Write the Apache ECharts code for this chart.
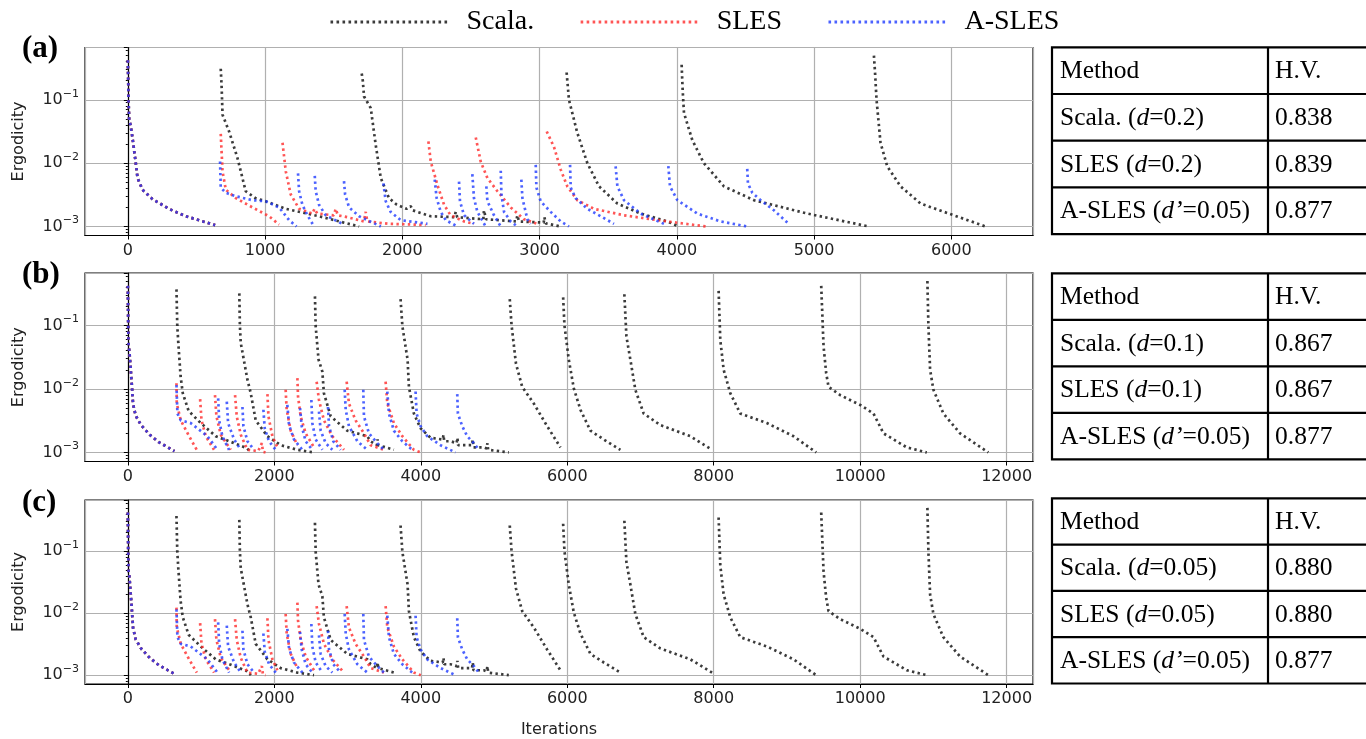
<!DOCTYPE html>
<html>
<head>
<meta charset="utf-8">
<script src="https://cdn.jsdelivr.net/npm/echarts@6/dist/echarts.min.js"></script>
<style>
html,body{margin:0;padding:0;background:#fff;}
#chart{width:1366px;height:739px;}
</style>
</head>
<body>
<div id="chart"></div>
<script>
// ---------------- DATA ----------------
const methods = ['Scala.', 'SLES', 'A-SLES'];
const panelLabels = ['(a)', '(b)', '(c)'];
const xTickStep = [1000, 2000, 2000];

// initial run shared by all methods (starts at iteration 0)
const firstSeg = [[0,0.42],[3,0.2],[5,0.1],[10,0.048],[20,0.04],[34,0.025],[58,0.01],[71,0.0058],[107,0.0038],[180,0.0027],[299,0.0019],[423,0.00145],[636,0.00105]];

// Panel (a)
const scalaA = [
  firstSeg,
  [[677,0.31],[684,0.15],[690,0.058],[738,0.0316],[799,0.012],[859,0.0036],[930,0.0028],[1005,0.0025],[1151,0.0019],[1393,0.00145],[1685,0.001]],
  [[1704,0.26],[1712,0.2],[1721,0.113],[1770,0.074],[1806,0.0195],[1843,0.0058],[1903,0.0028],[1960,0.0022],[2030,0.0019],[2061,0.0021],[2075,0.0018],[2207,0.00145],[2380,0.0014],[2389,0.0017],[2400,0.0014],[2590,0.0013],[2595,0.0018],[2610,0.0013],[2830,0.0012],[2838,0.0015],[2850,0.0012],[3030,0.00115],[3035,0.0014],[3045,0.00112],[3154,0.001]],
  [[3197,0.27],[3214,0.1],[3275,0.03],[3348,0.01],[3433,0.0043],[3567,0.0023],[3736,0.0016],[3931,0.0012],[4015,0.001]],
  [[4035,0.357],[4042,0.15],[4052,0.062],[4113,0.023],[4197,0.01],[4343,0.0043],[4562,0.0026],[4950,0.0016],[5399,0.001]],
  [[5436,0.5],[5445,0.25],[5455,0.1],[5484,0.021],[5533,0.0089],[5630,0.0043],[5776,0.0023],[6018,0.0015],[6249,0.001]]
];
const slesA = [
  firstSeg,
  [[677,0.029],[690,0.0074],[714,0.0038],[787,0.0028],[908,0.002],[1029,0.00145],[1102,0.00107]],
  [[1127,0.021],[1151,0.0074],[1187,0.0032],[1248,0.0019],[1345,0.0016],[1360,0.0019],[1380,0.0016],[1500,0.0015],[1515,0.0019],[1530,0.0015],[1600,0.0014],[1720,0.0012],[1733,0.0017],[1745,0.0012],[1900,0.0011],[2050,0.00108],[2170,0.00105]],
  [[2190,0.022],[2207,0.0106],[2256,0.0045],[2304,0.0022],[2352,0.0015],[2450,0.0012],[2522,0.0011]],
  [[2535,0.0254],[2571,0.0106],[2620,0.0058],[2693,0.0036],[2790,0.002],[2886,0.0013],[2984,0.0011]],
  [[3052,0.0316],[3105,0.018],[3154,0.0079],[3202,0.0043],[3275,0.0026],[3396,0.0019],[3615,0.0015],[3858,0.00126],[4210,0.001]]
];
const aslesA = [
  firstSeg,
  [[672,0.0106],[677,0.0041],[714,0.0034],[787,0.003],[908,0.0026],[1005,0.0025],[1102,0.002],[1175,0.00126],[1229,0.001]],
  [[1240,0.0069],[1248,0.0036],[1272,0.0022],[1309,0.0015],[1357,0.001]],
  [[1362,0.0063],[1369,0.0036],[1393,0.0022],[1442,0.0015],[1564,0.0011]],
  [[1575,0.0052],[1583,0.0032],[1612,0.002],[1685,0.00145],[1843,0.001]],
  [[1862,0.0048],[1879,0.0025],[1915,0.0017],[1988,0.00126],[2183,0.0011]],
  [[2236,0.0055],[2250,0.0028],[2280,0.0017],[2316,0.00126],[2401,0.001]],
  [[2413,0.0051],[2420,0.0025],[2450,0.0015],[2522,0.0011]],
  [[2510,0.0067],[2522,0.0028],[2547,0.0017],[2607,0.001]],
  [[2612,0.0043],[2620,0.0025],[2668,0.0015],[2717,0.001]],
  [[2717,0.0076],[2722,0.0032],[2741,0.0017],[2790,0.0012],[2838,0.001]],
  [[2867,0.0055],[2875,0.0028],[2911,0.0013],[2935,0.0011]],
  [[2972,0.0094],[2977,0.0041],[3008,0.0025],[3081,0.0017],[3154,0.0012],[3214,0.001]],
  [[3222,0.0094],[3227,0.0041],[3263,0.0028],[3348,0.0019],[3445,0.00145],[3542,0.0011]],
  [[3554,0.0089],[3567,0.0043],[3615,0.0026],[3736,0.0016],[3906,0.0011]],
  [[3938,0.009],[3950,0.0043],[4004,0.0026],[4149,0.0016],[4319,0.0012],[4513,0.001]],
  [[4513,0.0081],[4518,0.0048],[4550,0.0034],[4610,0.0026],[4707,0.0018],[4816,0.0011]]
];

// Panel (b)
const scalaB = [
  firstSeg,
  [[664,0.37],[675,0.1],[689,0.053],[720,0.016],[750,0.0086],[830,0.0045],[996,0.0029],[1200,0.0018],[1386,0.0015],[1629,0.00116],[1680,0.001]],
  [[1522,0.32],[1530,0.1],[1542,0.053],[1633,0.014],[1678,0.0086],[1746,0.0032],[1906,0.0018],[2087,0.0013],[2315,0.0011],[2542,0.001]],
  [[2555,0.287],[2565,0.097],[2604,0.029],[2656,0.0188],[2677,0.0086],[2770,0.0037],[2997,0.0022],[3270,0.0018],[3315,0.0015],[3400,0.0013],[3410,0.0016],[3420,0.0013],[3633,0.0011]],
  [[3724,0.26],[3749,0.097],[3820,0.029],[3838,0.0108],[3906,0.0041],[3997,0.0024],[4134,0.0017],[4300,0.0016],[4310,0.0019],[4320,0.0015],[4407,0.0015],[4490,0.0014],[4500,0.0017],[4510,0.0013],[4634,0.0013],[4700,0.0013],[4710,0.0016],[4720,0.0012],[4861,0.0012],[4900,0.00115],[4910,0.0014],[4920,0.0011],[5202,0.001]],
  [[5215,0.26],[5240,0.1],[5300,0.025],[5385,0.0108],[5543,0.0059],[5725,0.0026],[5907,0.0012]],
  [[5944,0.277],[5962,0.1],[6021,0.029],[6089,0.0103],[6180,0.0047],[6317,0.0022],[6499,0.0016],[6726,0.0011]],
  [[6780,0.31],[6808,0.067],[6862,0.029],[6930,0.0097],[7044,0.0041],[7271,0.0027],[7681,0.0018],[7977,0.0011]],
  [[8067,0.35],[8090,0.059],[8136,0.02],[8226,0.0086],[8363,0.0041],[8727,0.0029],[9090,0.0018],[9400,0.001]],
  [[9468,0.42],[9500,0.047],[9536,0.0177],[9568,0.0108],[9727,0.008],[10000,0.0056],[10182,0.0041],[10318,0.002],[10637,0.0012],[10910,0.001]],
  [[10918,0.5],[10932,0.097],[10955,0.02],[11000,0.0097],[11136,0.0041],[11364,0.002],[11750,0.001]]
];
const slesB = [
  firstSeg,
  [[664,0.0123],[668,0.0059],[723,0.0032],[837,0.0018],[941,0.0011]],
  [[987,0.0069],[1006,0.0032],[1064,0.0018],[1177,0.0011]],
  [[1190,0.008],[1210,0.0037],[1269,0.0019],[1405,0.0011]],
  [[1464,0.008],[1487,0.0037],[1542,0.0019],[1633,0.0011],[1780,0.00105],[1830,0.0014],[1845,0.00102],[1880,0.001]],
  [[1906,0.0083],[1920,0.0037],[1974,0.0018],[2042,0.0012]],
  [[2155,0.0097],[2169,0.0047],[2224,0.0022],[2315,0.0013]],
  [[2315,0.0148],[2324,0.0076],[2360,0.0037],[2428,0.002],[2542,0.0012]],
  [[2578,0.013],[2610,0.0067],[2678,0.0032],[2792,0.0018],[2951,0.0011]],
  [[2988,0.013],[3019,0.0059],[3110,0.0032],[3224,0.002],[3315,0.0013],[3497,0.0011]],
  [[3520,0.013],[3543,0.0059],[3633,0.0029],[3748,0.0018],[3906,0.0011],[4000,0.001]]
];
const aslesB = [
  firstSeg,
  [[664,0.0115],[677,0.0041],[723,0.0032],[859,0.0029],[1087,0.0018],[1224,0.0011]],
  [[1233,0.0071],[1247,0.0032],[1291,0.0018],[1382,0.0011]],
  [[1351,0.0063],[1369,0.0029],[1451,0.0016],[1542,0.0011]],
  [[1565,0.0052],[1578,0.0026],[1633,0.0015],[1723,0.0011]],
  [[1851,0.0047],[1869,0.0024],[1928,0.0015],[2019,0.0011]],
  [[2178,0.0056],[2201,0.0027],[2269,0.0016],[2383,0.0011]],
  [[2351,0.005],[2374,0.0026],[2428,0.0015],[2519,0.0011]],
  [[2506,0.0067],[2519,0.0029],[2565,0.0016],[2656,0.0011]],
  [[2610,0.0044],[2633,0.0022],[2701,0.0014],[2792,0.0011]],
  [[2733,0.0052],[2747,0.0026],[2806,0.0015],[2906,0.0011]],
  [[2961,0.0097],[2975,0.0047],[3019,0.0026],[3134,0.0015],[3270,0.0011]],
  [[3215,0.0097],[3224,0.0037],[3292,0.002],[3406,0.0014],[3497,0.0011]],
  [[3543,0.0091],[3565,0.0041],[3633,0.0022],[3748,0.0015],[3884,0.0011]],
  [[3929,0.0091],[3943,0.0041],[3997,0.0026],[4088,0.0018],[4270,0.0013],[4475,0.001]],
  [[4498,0.0083],[4507,0.0041],[4566,0.0026],[4634,0.0018],[4725,0.0014],[4793,0.0011]]
];

// Panel (c) – curves read identical to panel (b)
const scalaC = scalaB;
const slesC = slesB;
const aslesC = aslesB;

// Tables
const tableHeader = ['Method', 'H.V.'];
const tableA = [['Scala. ({i|d}=0.2)', '0.838'], ['SLES ({i|d}=0.2)', '0.839'], ['A-SLES ({i|d’}=0.05)', '0.877']];
const tableB = [['Scala. ({i|d}=0.1)', '0.867'], ['SLES ({i|d}=0.1)', '0.867'], ['A-SLES ({i|d’}=0.05)', '0.877']];
const tableC = [['Scala. ({i|d}=0.05)', '0.880'], ['SLES ({i|d}=0.05)', '0.880'], ['A-SLES ({i|d’}=0.05)', '0.877']];

// ---------------- LAYOUT / STYLE ----------------
const gridsPos = [
  {left: 85, top: 47.5, width: 948, height: 188},
  {left: 85, top: 273, width: 948, height: 188.5},
  {left: 85, top: 500, width: 948, height: 188}
];
const xRanges = [[-312, 6595], [-585, 12360], [-585, 12360]];
const yRange = [7.2e-4, 0.67];
const colors = {'Scala.': '#262626', 'SLES': '#ff2a2a', 'A-SLES': '#1f3bff'};
const opac = {'Scala.': 0.9, 'SLES': 0.8, 'A-SLES': 0.8};
const tickFont = 'DejaVu Sans';
const serif = 'Liberation Serif';

const panelData = [
  [scalaA, slesA, aslesA],
  [scalaB, slesB, aslesB],
  [scalaC, slesC, aslesC]
];

const series = [];
panelData.forEach((sets, gi) => {
  sets.forEach((segs, mi) => {
    const name = methods[mi];
    segs.forEach(seg => {
      series.push({
        type: 'line', name: name, xAxisIndex: gi, yAxisIndex: gi,
        data: seg, symbol: 'none', showSymbol: false, silent: true,
        animation: false, z: 2 + mi,
        lineStyle: {color: colors[name], width: 2.7, type: [2.4, 3.3], opacity: opac[name], cap: 'butt'},
        itemStyle: {color: colors[name]}
      });
    });
  });
});

function yLabel(v) {
  const e = Math.log10(v);
  if (Math.abs(e - Math.round(e)) > 1e-6) return '';
  const ex = String(Math.round(e)).replace('-', '−');
  return '{b|10}{s|' + ex + '}';
}

const xAxes = gridsPos.map((g, i) => ({
  type: 'value', gridIndex: i, min: xRanges[i][0], max: xRanges[i][1],
  splitNumber: i === 0 ? 7 : 6,
  axisLine: {show: true, lineStyle: {color: '#000', width: 1.2}},
  axisTick: {show: true, length: 4, lineStyle: {color: '#000'}},
  axisLabel: {
    show: true, margin: 7, fontFamily: tickFont, fontSize: 16, color: '#222',
    showMinLabel: false, showMaxLabel: false,
    formatter: v => (Math.abs(v / xTickStep[i] - Math.round(v / xTickStep[i])) < 1e-6 ? String(v) : '')
  },
  splitLine: {show: true, lineStyle: {color: '#b0b0b0', width: 1.2}},
  name: i === 2 ? 'Iterations' : '', nameLocation: 'middle', nameGap: 38,
  nameTextStyle: {fontFamily: tickFont, fontSize: 16, color: '#222'}
}));

const yAxes = gridsPos.map((g, i) => ({
  type: 'log', logBase: 10, gridIndex: i, min: yRange[0], max: yRange[1],
  axisLine: {show: true, lineStyle: {color: '#000', width: 1.2}},
  axisTick: {show: true, length: 4, lineStyle: {color: '#000'}},
  minorTick: {show: true, splitNumber: 9, length: 2, lineStyle: {color: '#000'}},
  axisLabel: {
    show: true, margin: 6, formatter: yLabel, showMinLabel: false, showMaxLabel: false,
    rich: {
      b: {fontFamily: tickFont, fontSize: 16, color: '#222'},
      s: {fontFamily: tickFont, fontSize: 11, color: '#222', padding: [0, 0, 12, 0]}
    }
  },
  splitLine: {show: true, lineStyle: {color: '#b0b0b0', width: 1.2}},
  name: 'Ergodicity', nameLocation: 'middle', nameGap: 58, nameRotate: 90,
  nameTextStyle: {fontFamily: tickFont, fontSize: 16, color: '#222'}
}));

// table graphics
const tableTops = [47.3, 273.3, 498.3];
const tableRowH = [46.7, 46.5, 46.3];
const tableRows = [tableA, tableB, tableC];
const graphics = [];
const tL = 1052, tM = 1268, tR = 1380;
tableTops.forEach((top, ti) => {
  const h = tableRowH[ti];
  graphics.push({type: 'rect', shape: {x: tL, y: top, width: tR - tL, height: h * 4},
    style: {fill: 'none', stroke: '#000', lineWidth: 2.2}, silent: true});
  for (let r = 1; r < 4; r++) {
    graphics.push({type: 'line', shape: {x1: tL, y1: top + h * r, x2: tR, y2: top + h * r},
      style: {stroke: '#000', lineWidth: 2.2}, silent: true});
  }
  graphics.push({type: 'line', shape: {x1: tM, y1: top, x2: tM, y2: top + h * 4},
    style: {stroke: '#000', lineWidth: 2.2}, silent: true});
  const rows = [tableHeader].concat(tableRows[ti]);
  rows.forEach((row, r) => {
    const cy = top + h * r + h / 2 + 1;
    [tL + 8, tM + 7].forEach((x, c) => {
      graphics.push({type: 'text', x: x, y: cy, silent: true,
        style: {text: row[c], fontFamily: serif, fontSize: 25.5, fill: '#000', verticalAlign: 'middle', align: 'left',
          rich: {i: {fontFamily: serif, fontSize: 25.5, fontStyle: 'italic', fill: '#000'}}}});
    });
  });
});
// panel labels
const panelLabelPos = [[22, 49], [22, 275], [22, 503]];
panelLabels.forEach((t, i) => {
  graphics.push({type: 'text', x: panelLabelPos[i][0], y: panelLabelPos[i][1], silent: true,
    style: {text: t, fontFamily: serif, fontWeight: 'bold', fontSize: 31, fill: '#000', verticalAlign: 'middle'}});
});

const chart = echarts.init(document.getElementById('chart'), null, {renderer: 'canvas'});
chart.setOption({
  animation: false,
  backgroundColor: '#fff',
  legend: {
    data: methods, left: 324, top: 3, itemWidth: 117, itemHeight: 12, itemGap: 45,
    itemStyle: {opacity: 0},
    lineStyle: {width: 3, type: [2.6, 3.4]},
    textStyle: {fontFamily: serif, fontSize: 28, color: '#000', padding: [0, 0, 0, 14]},
    selectedMode: false
  },
  grid: gridsPos.map(g => Object.assign({show: true, borderColor: '#000', borderWidth: 1.2, backgroundColor: 'transparent', containLabel: false}, g)),
  xAxis: xAxes,
  yAxis: yAxes,
  series: series,
  graphic: graphics
});
</script>
</body>
</html>
